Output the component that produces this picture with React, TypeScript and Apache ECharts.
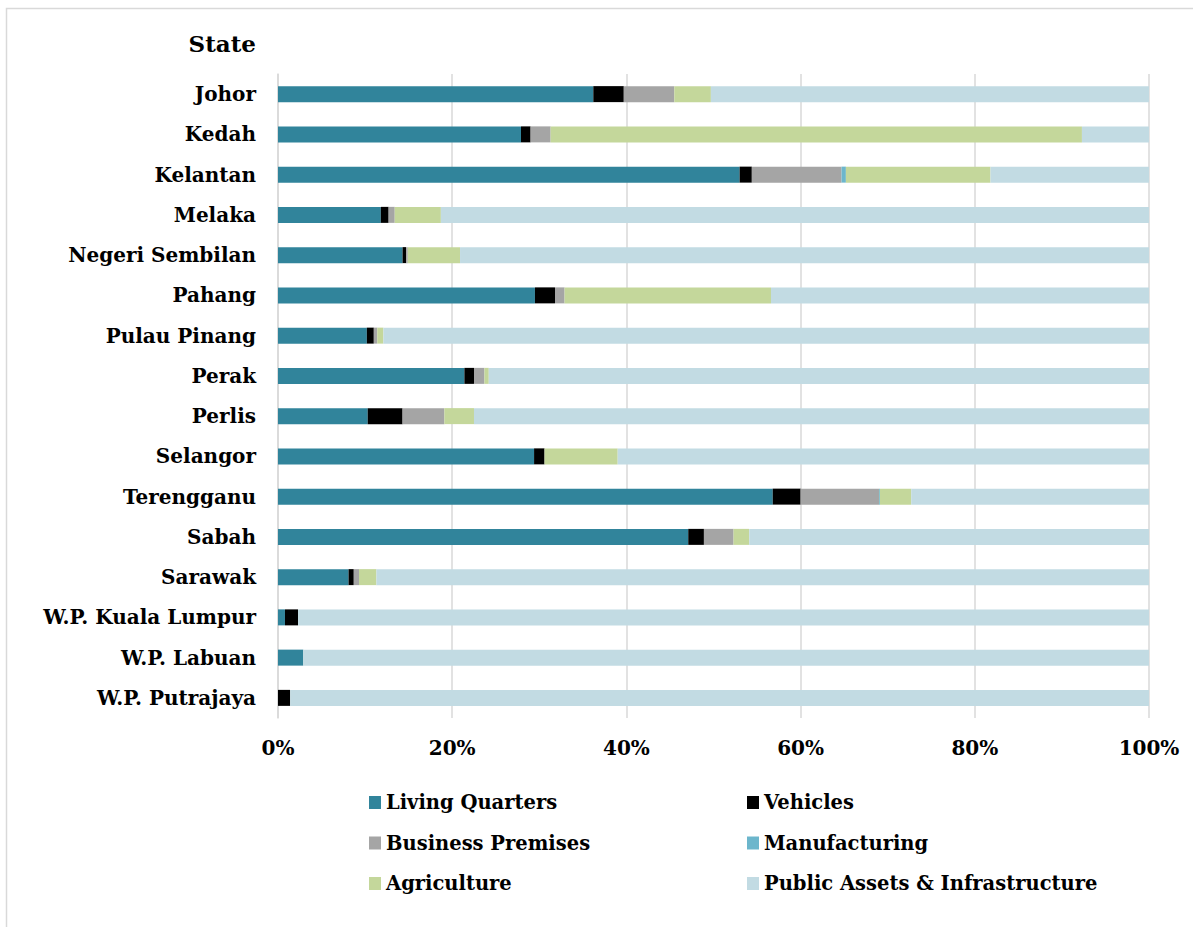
import React, { useEffect, useRef } from "react";
import * as echarts from "echarts";

const states = [
  "Johor", "Kedah", "Kelantan", "Melaka", "Negeri Sembilan", "Pahang",
  "Pulau Pinang", "Perak", "Perlis", "Selangor", "Terengganu", "Sabah",
  "Sarawak", "W.P. Kuala Lumpur", "W.P. Labuan", "W.P. Putrajaya",
];

const livingQuarters = [36.2, 27.9, 53.0, 11.8, 14.3, 29.5, 10.2, 21.4, 10.3, 29.4, 56.8, 47.1, 8.1, 0.8, 2.9, 0];
const vehicles = [3.5, 1.1, 1.4, 0.9, 0.4, 2.3, 0.8, 1.1, 4.0, 1.2, 3.2, 1.8, 0.6, 1.5, 0, 1.4];
const businessPremises = [5.8, 2.3, 10.3, 0.7, 0.2, 1.1, 0.4, 1.2, 4.8, 0, 9.0, 3.4, 0.6, 0, 0, 0];
const manufacturing = [0, 0, 0.5, 0, 0, 0, 0, 0, 0, 0, 0.1, 0, 0, 0, 0, 0];
const agriculture = [4.2, 61.0, 16.6, 5.3, 6.0, 23.7, 0.7, 0.5, 3.4, 8.4, 3.6, 1.8, 2.0, 0, 0, 0];
const publicAssets = [50.3, 7.7, 18.2, 81.3, 79.1, 43.4, 87.9, 75.8, 77.5, 61.0, 27.3, 45.9, 88.7, 97.7, 97.1, 98.6];

const xTicks = [0, 20, 40, 60, 80, 100];

const seriesDefs = [
  { name: "Living Quarters", data: livingQuarters, color: "#31849B" },
  { name: "Vehicles", data: vehicles, color: "#000000" },
  { name: "Business Premises", data: businessPremises, color: "#A5A5A5" },
  { name: "Manufacturing", data: manufacturing, color: "#6CB6CC" },
  { name: "Agriculture", data: agriculture, color: "#C4D79B" },
  { name: "Public Assets & Infrastructure", data: publicAssets, color: "#C2DBE3" },
];

const FONT = "DejaVu Serif";

export default function App() {
  const ref = useRef<HTMLDivElement>(null);
  useEffect(() => {
    if (!ref.current) return;
    const chart = echarts.init(ref.current, undefined, { renderer: "svg" });
    const legendCommon = {
      orient: "vertical",
      top: 792.5,
      padding: 0,
      itemWidth: 12,
      itemHeight: 13,
      itemGap: 20.5,
      icon: "rect",
      textStyle: {
        fontFamily: FONT,
        fontWeight: "bold",
        fontSize: 19.5,
        color: "#000",
        lineHeight: 20,
      },
    };
    chart.setOption({
      animation: false,
      backgroundColor: "#fff",
      graphic: [
        {
          type: "rect",
          shape: { x: 6.5, y: 8.5, width: 1400, height: 1100 },
          style: { fill: "none", stroke: "#D9D9D9", lineWidth: 1.5 },
          silent: true,
        },
        {
          type: "text",
          x: 256,
          y: 43,
          style: {
            text: "State",
            textAlign: "right",
            textVerticalAlign: "middle",
            font: `bold 23px "${FONT}"`,
            fill: "#000",
          },
        },
      ],
      legend: [
        {
          ...legendCommon,
          left: 369,
          data: ["Living Quarters", "Business Premises", "Agriculture"],
        },
        {
          ...legendCommon,
          left: 747,
          data: ["Vehicles", "Manufacturing", "Public Assets & Infrastructure"],
        },
      ],
      grid: { left: 278, right: 44, top: 74, bottom: 209, containLabel: false },
      xAxis: {
        type: "value",
        min: xTicks[0],
        max: xTicks[xTicks.length - 1],
        interval: 20,
        axisLine: { show: false },
        axisTick: { show: false },
        splitLine: { show: true, lineStyle: { color: "#D9D9D9", width: 1.5 } },
        axisLabel: {
          margin: 20,
          fontFamily: FONT,
          fontWeight: "bold",
          fontSize: 20,
          color: "#000",
          formatter: (v: number) => `${v}%`,
        },
      },
      yAxis: {
        type: "category",
        inverse: true,
        data: states,
        axisLine: { show: true, lineStyle: { color: "#D9D9D9", width: 1.5 } },
        axisTick: { show: false },
        axisLabel: {
          margin: 22,
          fontFamily: FONT,
          fontWeight: "bold",
          fontSize: 20,
          color: "#000",
        },
      },
      series: seriesDefs.map((s) => ({
        name: s.name,
        type: "bar",
        stack: "total",
        barWidth: 16,
        data: s.data,
        itemStyle: { color: s.color },
        emphasis: { disabled: true },
      })),
    });
    return () => chart.dispose();
  }, []);
  return (
    <div
      ref={ref}
      style={{ position: "fixed", left: 0, top: 0, width: 1193, height: 927 }}
    />
  );
}
